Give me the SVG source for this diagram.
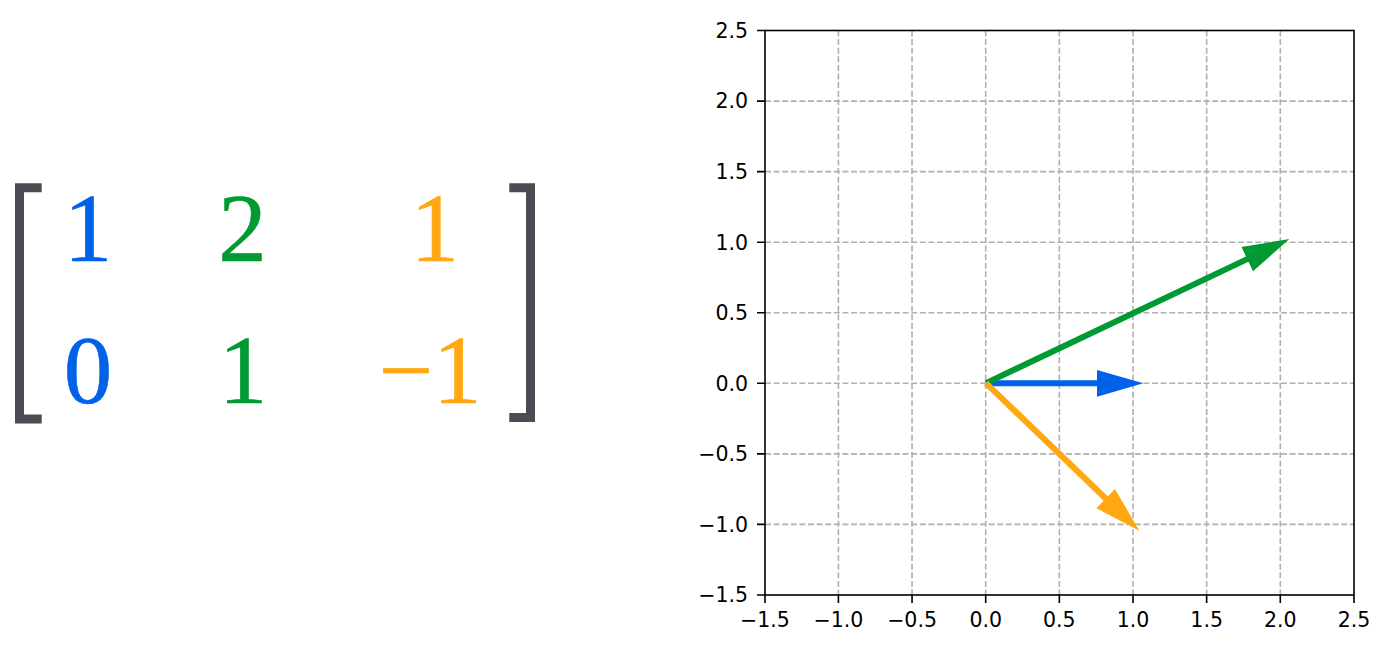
<svg xmlns="http://www.w3.org/2000/svg" width="1383" height="650" viewBox="0 0 1383 650">
<style>
.num{font-family:"Liberation Serif","Times New Roman",serif;font-size:97px;text-anchor:middle;stroke-width:0.6}
.blue{fill:#0062e8;stroke:#0062e8}.green{fill:#009a32;stroke:#009a32}.orange{fill:#ffa812;stroke:#ffa812}
.grid{stroke:#b0b0b0;stroke-width:1.6;stroke-dasharray:6 2.6;fill:none}
.spine{stroke:#000;stroke-width:1.6;fill:none}
.tick{stroke:#000;stroke-width:1.6}
.tl{font-family:"DejaVu Sans",sans-serif;font-size:20.5px;fill:#000}
.yl{text-anchor:end}.xl{text-anchor:middle}
.vec{stroke:none}
</style>
<rect width="1383" height="650" fill="#fff"/>
<g id="matrix">
  <path d="M41.7,187.8 H19.5 V419 H41.7" fill="none" stroke="#4a4d51" stroke-width="9" stroke-linecap="butt"/>
  <path d="M509.3,187.8 H530.5 V417.5 H509.3" fill="none" stroke="#4a4d51" stroke-width="9"/>
  <text class="num blue" x="88" y="260.7">1</text>
  <text class="num blue" x="88" y="403.3">0</text>
  <text class="num green" x="242.5" y="260.7">2</text>
  <text class="num green" x="243" y="403.3">1</text>
  <text class="num orange" x="434.7" y="260.7">1</text>
  <text class="num orange" x="430" y="403.3">−1</text>
</g>
<g id="plot">
  <g id="grid">
    <path class="grid" d="M838.4,30.5V595M912.05,30.5V595M985.7,30.5V595M1059.35,30.5V595M1133,30.5V595M1206.65,30.5V595M1280.3,30.5V595"/>
    <path class="grid" d="M765,101.1H1354M765,171.6H1354M765,242.2H1354M765,312.7H1354M765,383.3H1354M765,453.9H1354M765,524.4H1354"/>
  </g>
  <g id="connectors">
    <polygon id="v-blue" class="blue vec" points="986,380.3 1097,380.3 1097,369.9 1143.3,383.3 1097,396.7 1097,386.3 986,386.3"/>
    <polygon id="v-green" class="green vec" points="984.7,380.4 1245.9,256.4 1241.5,247 1289.3,239.1 1253,271.2 1248.5,261.8 987.3,385.8"/>
    <polygon id="v-orange" class="orange vec" points="988.1,380.9 1107.8,496.3 1115,488.9 1139.3,530.8 1096.4,508.2 1103.6,500.7 983.9,385.3"/>
  </g>
  <rect class="spine" x="765" y="30.5" width="589" height="564.5"/>
  <g id="yticks">
    <path class="tick" d="M757,30.5H765M757,101.1H765M757,171.6H765M757,242.2H765M757,312.7H765M757,383.3H765M757,453.9H765M757,524.4H765M757,595H765"/>
    <text class="tl yl" x="748" y="37.8">2.5</text>
    <text class="tl yl" x="748" y="108.4">2.0</text>
    <text class="tl yl" x="748" y="178.9">1.5</text>
    <text class="tl yl" x="748" y="249.5">1.0</text>
    <text class="tl yl" x="748" y="320">0.5</text>
    <text class="tl yl" x="748" y="390.6">0.0</text>
    <text class="tl yl" x="748" y="461.2">−0.5</text>
    <text class="tl yl" x="748" y="531.7">−1.0</text>
    <text class="tl yl" x="748" y="602.3">−1.5</text>
  </g>
  <g id="xticks">
    <path class="tick" d="M765,595V603M838.4,595V603M912.05,595V603M985.7,595V603M1059.35,595V603M1133,595V603M1206.65,595V603M1280.3,595V603M1354,595V603"/>
    <text class="tl xl" x="765" y="627">−1.5</text>
    <text class="tl xl" x="838.4" y="627">−1.0</text>
    <text class="tl xl" x="912.05" y="627">−0.5</text>
    <text class="tl xl" x="985.7" y="627">0.0</text>
    <text class="tl xl" x="1059.35" y="627">0.5</text>
    <text class="tl xl" x="1133" y="627">1.0</text>
    <text class="tl xl" x="1206.65" y="627">1.5</text>
    <text class="tl xl" x="1280.3" y="627">2.0</text>
    <text class="tl xl" x="1354" y="627">2.5</text>
  </g>
</g>
</svg>
